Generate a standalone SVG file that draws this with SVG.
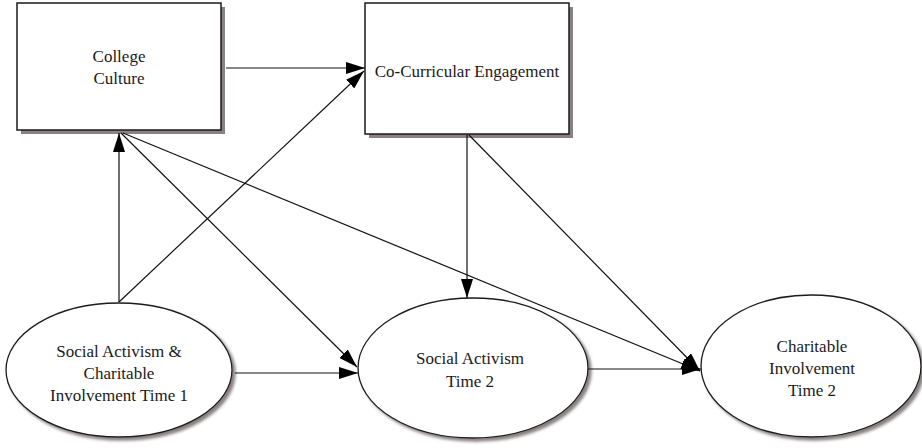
<svg xmlns="http://www.w3.org/2000/svg" width="922" height="448" viewBox="0 0 922 448">
<style>
.box{fill:#fff;stroke:#1a1a1a;stroke-width:1.5}
.bshadow{fill:#8a8282}
.ell{fill:#fff;stroke:#1a1a1a;stroke-width:1.3;filter:url(#sh)}
.lbl{font-family:"Liberation Serif","Times New Roman",serif;font-size:17px;fill:#1a1a1a;text-anchor:middle}
.con line{stroke:#111;stroke-width:1.2;marker-end:url(#ah)}
</style>
<defs>
<marker id="ah" markerUnits="userSpaceOnUse" markerWidth="19" markerHeight="12" refX="19" refY="6" orient="auto">
<path d="M0,0 L19,6 L0,12 z" fill="#000"/>
</marker>
<filter id="sh" x="-10%" y="-10%" width="125%" height="125%">
<feDropShadow dx="3" dy="3" stdDeviation="1.5" flood-color="#7a7272" flood-opacity="0.9"/>
</filter>
</defs>
<rect width="922" height="448" fill="#fff"/>
<g id="college-culture">
<rect class="bshadow" x="21" y="7" width="204" height="127"/>
<rect class="box" x="17" y="3" width="204" height="127"/>
<text class="lbl" x="119" y="62">College</text>
<text class="lbl" x="119" y="84">Culture</text>
</g>
<g id="co-curricular">
<rect class="bshadow" x="369" y="7" width="204" height="131"/>
<rect class="box" x="365" y="3" width="204" height="131"/>
<text class="lbl" x="467" y="77">Co-Curricular Engagement</text>
</g>
<g id="sa-ci-time1">
<ellipse class="ell" cx="119" cy="370" rx="113" ry="67"/>
<text class="lbl" x="119" y="357">Social Activism &amp;</text>
<text class="lbl" x="119" y="379">Charitable</text>
<text class="lbl" x="119" y="401">Involvement Time 1</text>
</g>
<g id="sa-time2">
<ellipse class="ell" cx="473" cy="368" rx="115" ry="70"/>
<text class="lbl" x="470" y="364">Social Activism</text>
<text class="lbl" x="470" y="387">Time 2</text>
</g>
<g id="ci-time2">
<ellipse class="ell" cx="811" cy="366" rx="110" ry="71"/>
<text class="lbl" x="812" y="352">Charitable</text>
<text class="lbl" x="812" y="374">Involvement</text>
<text class="lbl" x="812" y="396">Time 2</text>
</g>
<g id="connectors" class="con">
<line x1="226" y1="68" x2="365" y2="68"/>
<line x1="119" y1="302" x2="119" y2="133"/>
<line x1="119" y1="302" x2="364" y2="71"/>
<line x1="121" y1="133" x2="357" y2="367"/>
<line x1="123" y1="133" x2="700" y2="371"/>
<line x1="467" y1="135" x2="467" y2="298"/>
<line x1="469" y1="135" x2="700" y2="371"/>
<line x1="235" y1="373" x2="358" y2="373"/>
<line x1="588" y1="369" x2="701" y2="369"/>
</g>
</svg>
